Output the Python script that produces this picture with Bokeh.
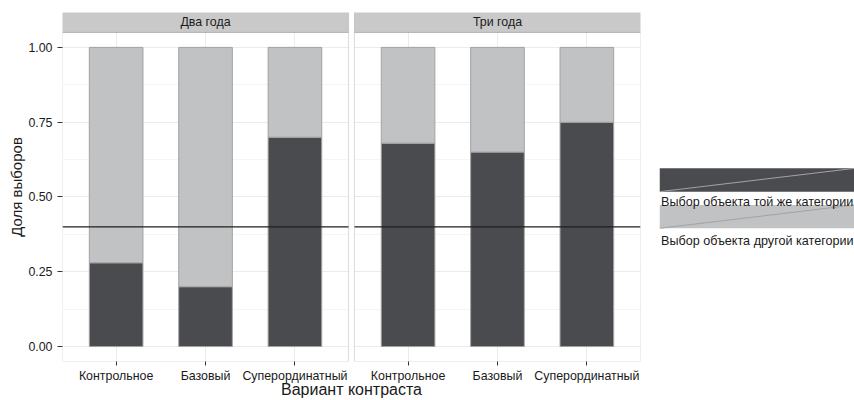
from bokeh.plotting import figure
from bokeh.models import (Range1d, FixedTicker, NumeralTickFormatter, BoxAnnotation,
                          Span, Label)
from bokeh.layouts import row
from bokeh.embed import file_html
from bokeh.resources import INLINE

# ---------------- data ----------------
panels = ["Два года", "Три года"]
categories = ["Контрольное", "Базовый", "Суперординатный"]
same_two = [0.28, 0.20, 0.70]      # share "same category" choices, two-year-olds
same_three = [0.68, 0.65, 0.75]    # share "same category" choices, three-year-olds
chance_level = 0.40
y_ticks = [0.0, 0.25, 0.5, 0.75, 1.0]
y_minor = [0.125, 0.375, 0.625, 0.875]
legend_labels = ["Выбор объекта той же категории", "Выбор объекта другой категории"]
y_title = "Доля выборов"
x_title = "Вариант контраста"

# ---------------- style ----------------
FONT = "Liberation Sans"
DARK = "#4a4b4e"
LIGHT = "#c0c2c4"
EDGE = "#a2a2a2"
STRIP = "#c9c9c9"
BORDER = "#8a8a8a"
GRID = "#ebebeb"
GRID_MINOR = "#f5f5f5"
TXT = "#1a1a1a"
TICK_FS = "12.4px"

# layout
W_MAIN, W_LEG, H = 659, 195, 400
MB_LEFT, MB_RIGHT, MB_TOP = 62, 19, 12
FRAME_H = 350
MB_BOTTOM = H - MB_TOP - FRAME_H
PX_PER_Y = 300.0
Y0 = -0.05
Y_PANEL_TOP = 1.05
Y_TOP = Y0 + FRAME_H / PX_PER_Y
X0, X1 = 0.4, 3.6
OFF = 3.265625                    # panel-2 offset on the shared x scale
X_END = OFF + X1
BAR_W = 0.6

p = figure(width=W_MAIN, height=H, x_range=Range1d(X0, X_END), y_range=Range1d(Y0, Y_TOP),
           output_backend="svg", toolbar_location=None,
           min_border_left=MB_LEFT, min_border_right=MB_RIGHT,
           min_border_top=MB_TOP, min_border_bottom=MB_BOTTOM)
p.outline_line_color = None
p.background_fill_color = "white"
p.border_fill_color = "white"

xticks, overrides = [], {}
for k, vals in enumerate([same_two, same_three]):
    xs = [i + 1 + k * OFF for i in range(len(categories))]
    p.vbar(x=xs, width=BAR_W, bottom=0, top=vals, fill_color=DARK, line_color=EDGE, line_width=1)
    p.vbar(x=xs, width=BAR_W, bottom=vals, top=1, fill_color=LIGHT, line_color=EDGE, line_width=1)
    for x, c in zip(xs, categories):
        xticks.append(x)
        overrides[x] = c

# x axis
p.xaxis.ticker = FixedTicker(ticks=xticks)
p.xgrid.ticker = FixedTicker(ticks=xticks)
p.xaxis.major_label_overrides = overrides
p.xaxis.axis_line_color = None
p.xaxis.minor_tick_line_color = None
p.xaxis.major_tick_in = 0
p.xaxis.major_tick_out = 4
p.xaxis.major_tick_line_color = "#333333"
p.xaxis.major_label_standoff = 3
p.xaxis.major_label_text_font = FONT
p.xaxis.major_label_text_font_size = TICK_FS
p.xaxis.major_label_text_color = TXT
p.xaxis.axis_label = x_title
p.xaxis.axis_label_text_font = FONT
p.xaxis.axis_label_text_font_size = "16px"
p.xaxis.axis_label_text_font_style = "normal"
p.xaxis.axis_label_text_color = TXT
p.xaxis.axis_label_standoff = -5

# y axis
p.yaxis.ticker = FixedTicker(ticks=y_ticks, minor_ticks=y_minor)
p.yaxis.formatter = NumeralTickFormatter(format="0.00")
p.yaxis.axis_line_color = None
p.yaxis.minor_tick_line_color = None
p.yaxis.major_tick_in = 0
p.yaxis.major_tick_out = 5
p.yaxis.major_tick_line_color = "#333333"
p.yaxis.major_label_standoff = 5
p.yaxis.major_label_text_font = FONT
p.yaxis.major_label_text_font_size = TICK_FS
p.yaxis.major_label_text_color = TXT
p.yaxis.axis_label = y_title
p.yaxis.axis_label_text_font = FONT
p.yaxis.axis_label_text_font_size = "15px"
p.yaxis.axis_label_text_font_style = "normal"
p.yaxis.axis_label_text_color = TXT
p.yaxis.axis_label_standoff = 0

p.xgrid.grid_line_color = GRID
p.ygrid.grid_line_color = GRID
p.ygrid.minor_grid_line_color = GRID_MINOR

# reference line
p.add_layout(Span(location=chance_level, dimension="width", line_color="#1e1e1e",
                  line_width=1.4, level="annotation"))

# white gap between the two panels
p.add_layout(BoxAnnotation(left=X1, right=OFF + X0, bottom=Y0, top=Y_TOP,
                           fill_color="white", fill_alpha=1, line_color=None, level="overlay"))

for k, name in enumerate(panels):
    left, right = X0 + k * OFF, X1 + k * OFF
    p.add_layout(BoxAnnotation(left=left, right=right, bottom=Y_PANEL_TOP, top=Y_TOP,
                               fill_color=STRIP, fill_alpha=1, line_color=BORDER,
                               line_width=1, level="overlay"))
    p.add_layout(BoxAnnotation(left=left, right=right, bottom=Y0, top=Y_PANEL_TOP,
                               fill_alpha=0, line_color=BORDER, line_width=1, level="overlay"))
    p.add_layout(Label(x=(left + right) / 2, y=(Y_PANEL_TOP + Y_TOP) / 2, text=name,
                       text_align="center", text_baseline="middle", text_font=FONT,
                       text_font_size=TICK_FS, text_color=TXT, level="overlay"))

# ---------------- legend ----------------
# frames in a row are aligned, so the legend's frame spans the main frame's rows;
# its y range is expressed in page pixels over that span (downwards).
lg = figure(width=W_LEG, height=H, x_range=Range1d(0, W_LEG),
            y_range=Range1d(MB_TOP + FRAME_H, MB_TOP),
            output_backend="svg", toolbar_location=None,
            min_border_left=0, min_border_right=0,
            min_border_top=MB_TOP, min_border_bottom=MB_BOTTOM,
            x_axis_location=None, y_axis_location=None)
lg.outline_line_color = None
lg.grid.visible = False
lg.background_fill_color = "white"
lg.border_fill_color = "white"

key_tops = [168.3, 205.0]
KEY_H = 23.4
text_base = [202.3, 240.7]
fills = [DARK, LIGHT]
for i in range(len(legend_labels)):
    t = key_tops[i]
    b = t + KEY_H
    lg.quad(left=[0], right=[W_LEG], top=[t], bottom=[b], fill_color=fills[i], line_color=None)
    lg.segment(x0=[0], y0=[b], x1=[W_LEG], y1=[t], line_color="#a3a3a3", line_width=1)
for i, lab in enumerate(legend_labels):
    lg.text(x=[1.5], y=[text_base[i]], text=[lab], text_font_size="12.6px",
            text_baseline="alphabetic", text_align="left", text_color=TXT,
            text_font={"value": FONT})

layout = row(p, lg)
open("out.html", "w").write(file_html(layout, INLINE))
